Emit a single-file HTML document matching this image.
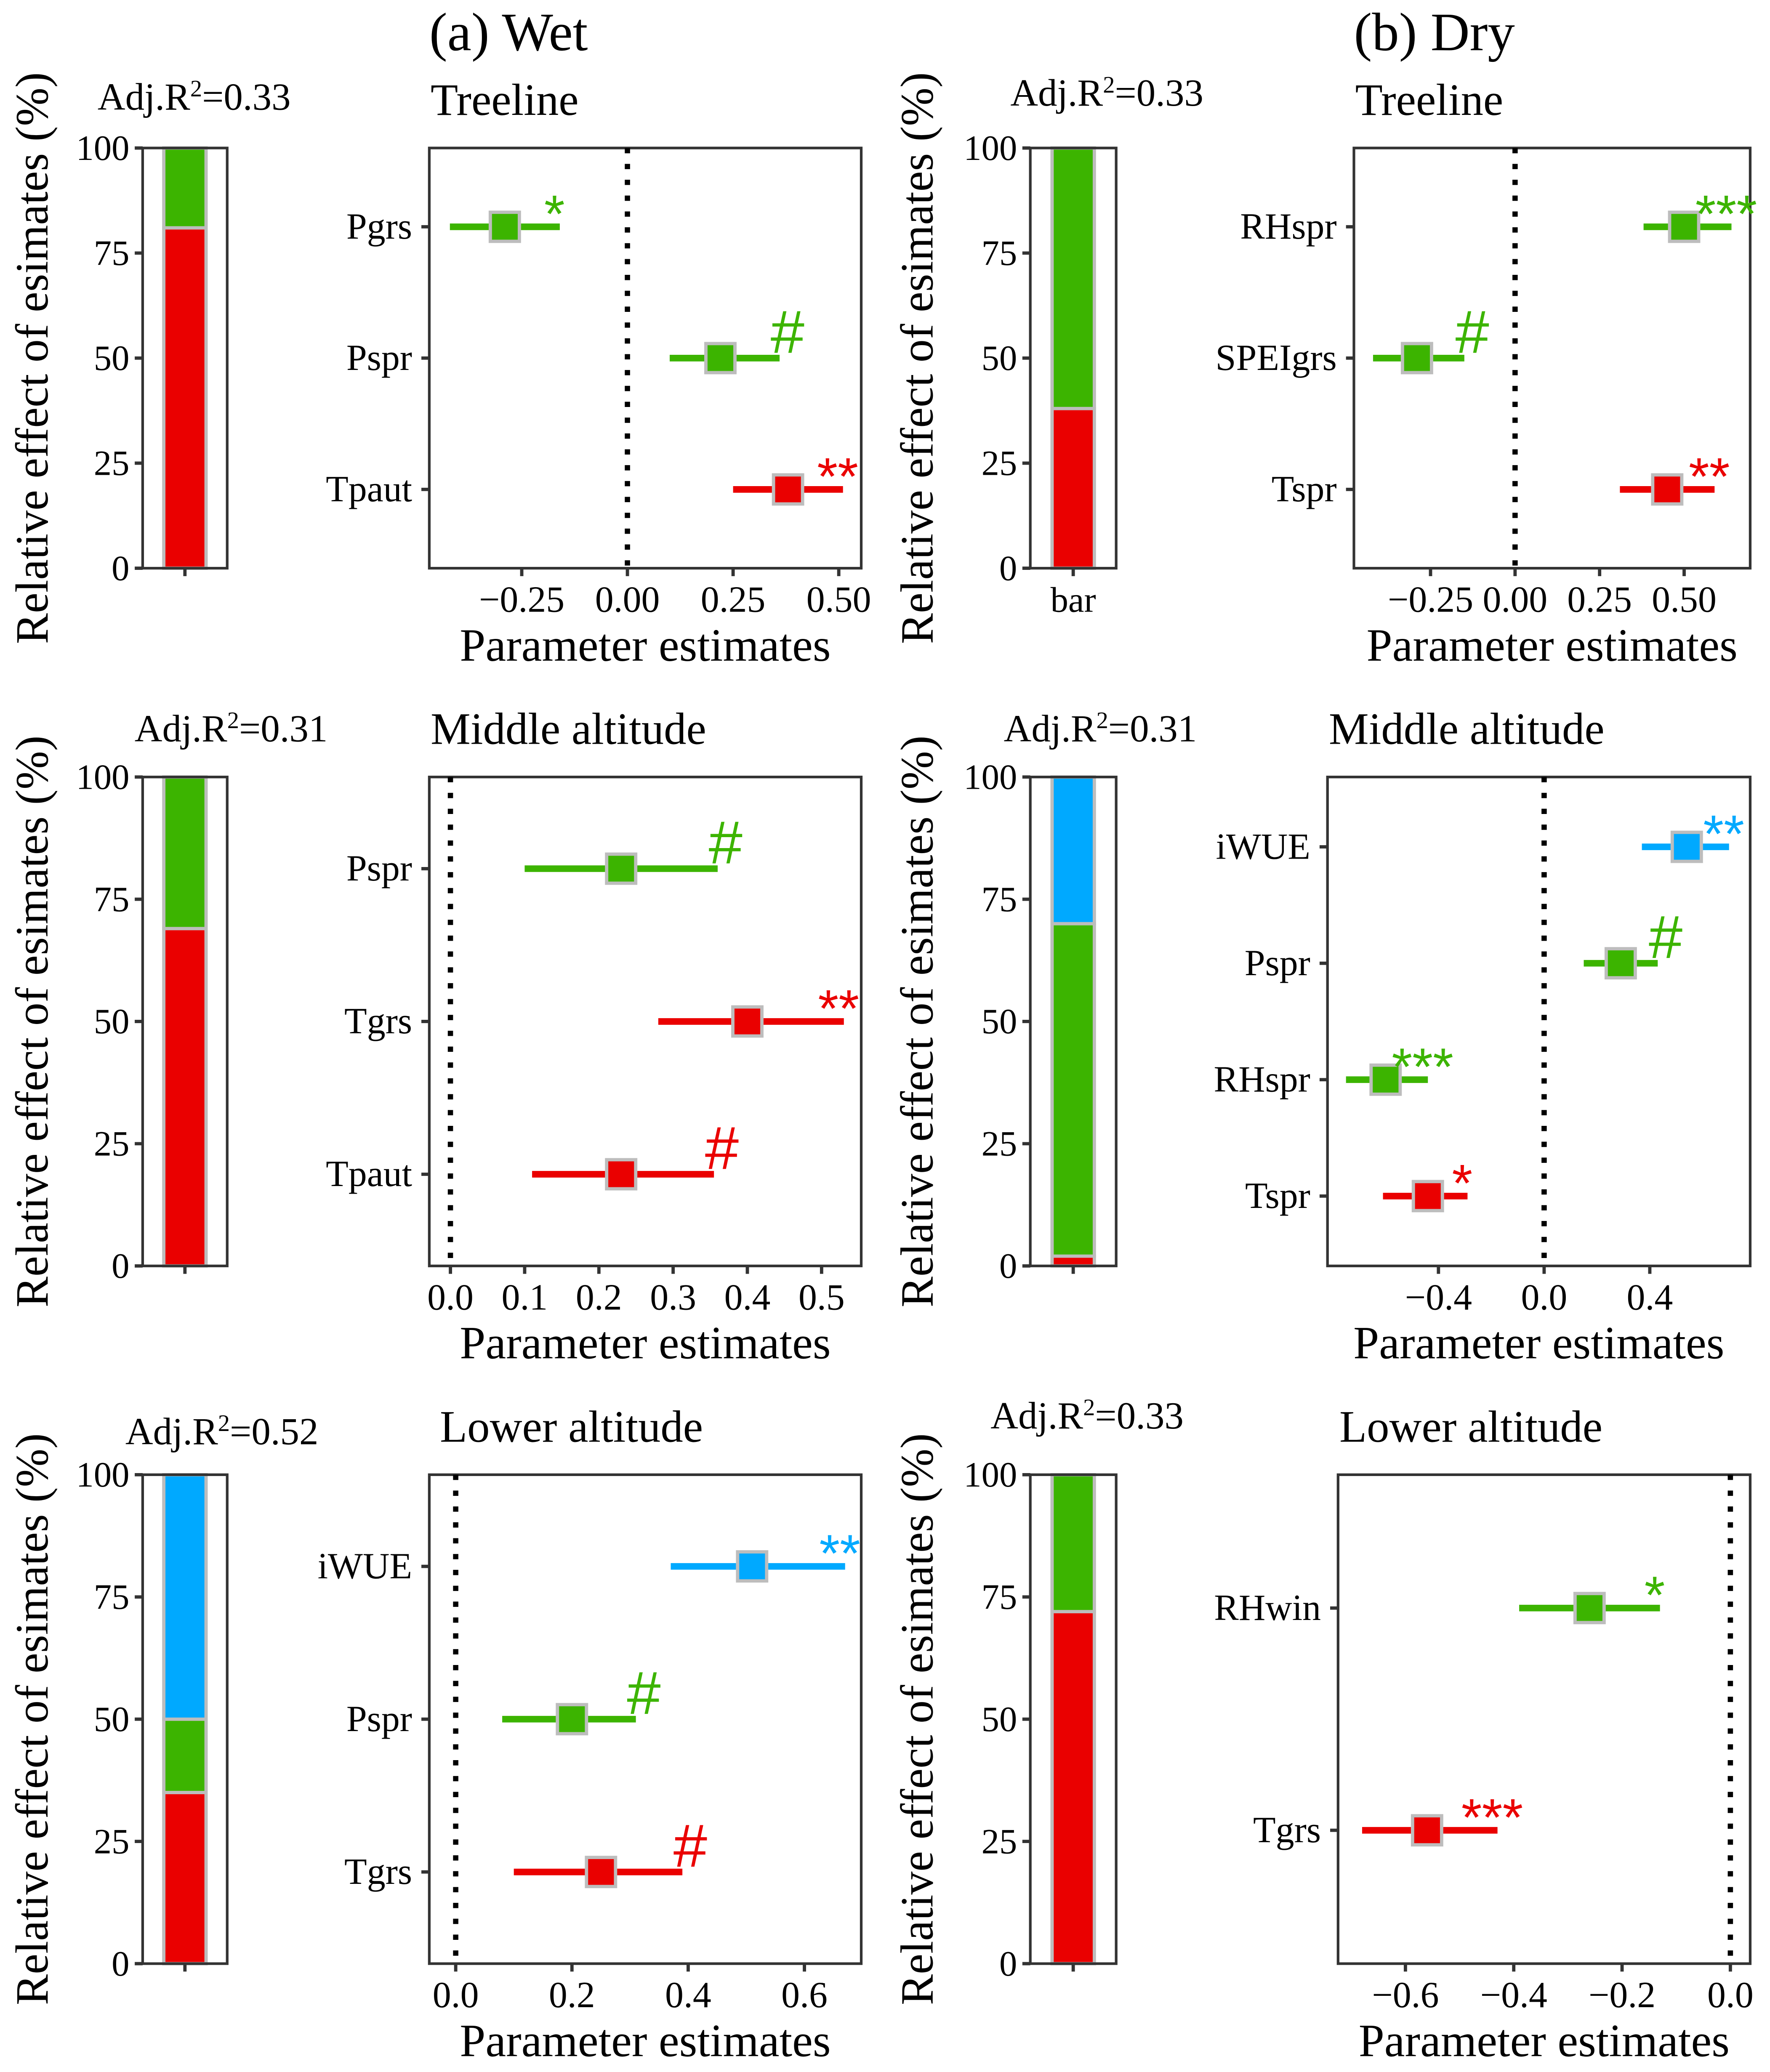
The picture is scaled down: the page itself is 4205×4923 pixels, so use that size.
<!DOCTYPE html>
<html><head><meta charset="utf-8"><style>
html,body{margin:0;padding:0;background:#fff}
svg{display:block}
text{font-family:"Liberation Serif",serif}
text.sig{font-family:"Liberation Sans",sans-serif}
</style></head><body>
<svg id="chart" width="4205" height="4923" viewBox="0 0 1340 1568" preserveAspectRatio="none" xmlns="http://www.w3.org/2000/svg">
<text x="325" y="38" font-size="41" fill="#000">(a) Wet</text>
<text x="1025" y="38" font-size="41" fill="#000">(b) Dry</text>
</svg>
<script>
// ---- data ----
const wetTreeVars=["Pgrs","Pspr","Tpaut"];
const wetTreeEst=[-0.29,0.22,0.38];
const wetTreeLo=[-0.42,0.10,0.25];
const wetTreeHi=[-0.16,0.36,0.51];
const wetTreeSig=["*","#","**"];
const wetTreeCol=["g","g","r"];
const wetTreeShare=[81,19,0]; // red, green, blue
const wetTreeR2="0.33";

const dryTreeVars=["RHspr","SPEIgrs","Tspr"];
const dryTreeEst=[0.50,-0.29,0.45];
const dryTreeLo=[0.38,-0.42,0.31];
const dryTreeHi=[0.64,-0.15,0.59];
const dryTreeSig=["***","#","**"];
const dryTreeCol=["g","g","r"];
const dryTreeShare=[38,62,0];
const dryTreeR2="0.33";

const wetMidVars=["Pspr","Tgrs","Tpaut"];
const wetMidEst=[0.23,0.40,0.23];
const wetMidLo=[0.10,0.28,0.11];
const wetMidHi=[0.36,0.53,0.355];
const wetMidSig=["#","**","#"];
const wetMidCol=["g","r","r"];
const wetMidShare=[69,31,0];
const wetMidR2="0.31";

const dryMidVars=["iWUE","Pspr","RHspr","Tspr"];
const dryMidEst=[0.54,0.29,-0.60,-0.44];
const dryMidLo=[0.37,0.15,-0.75,-0.61];
const dryMidHi=[0.70,0.43,-0.44,-0.29];
const dryMidSig=["**","#","***","*"];
const dryMidCol=["b","g","g","r"];
const dryMidShare=[2,68,30];
const dryMidR2="0.31";

const wetLowVars=["iWUE","Pspr","Tgrs"];
const wetLowEst=[0.51,0.20,0.25];
const wetLowLo=[0.37,0.08,0.10];
const wetLowHi=[0.67,0.31,0.39];
const wetLowSig=["**","#","#"];
const wetLowCol=["b","g","r"];
const wetLowShare=[35,15,50];
const wetLowR2="0.52";

const dryLowVars=["RHwin","Tgrs"];
const dryLowEst=[-0.26,-0.56];
const dryLowLo=[-0.39,-0.68];
const dryLowHi=[-0.13,-0.43];
const dryLowSig=["*","***"];
const dryLowCol=["g","r"];
const dryLowShare=[72,28,0];
const dryLowR2="0.33";

const ticksTree=[-0.25,0,0.25,0.5];
const ticksTreeLab=["\u22120.25","0.00","0.25","0.50"];
const ticksWetMid=[0,0.1,0.2,0.3,0.4,0.5];
const ticksWetMidLab=["0.0","0.1","0.2","0.3","0.4","0.5"];
const ticksDryMid=[-0.4,0,0.4];
const ticksDryMidLab=["\u22120.4","0.0","0.4"];
const ticksWetLow=[0,0.2,0.4,0.6];
const ticksWetLowLab=["0.0","0.2","0.4","0.6"];
const ticksDryLow=[-0.6,-0.4,-0.2,0];
const ticksDryLowLab=["\u22120.6","\u22120.4","\u22120.2","0.0"];
const barTicks=[0,25,50,75,100];

const COL={g:"#3cb400",r:"#ea0000",b:"#00a9ff"};
const svg=document.getElementById('chart');
const NS="http://www.w3.org/2000/svg";
function mk(tag,attrs,parent){const e=document.createElementNS(NS,tag);for(const k in attrs)e.setAttribute(k,attrs[k]);(parent||svg).appendChild(e);return e;}
function txt(x,y,s,size,anchor,parent){const t=mk('text',{x:x,y:y,'font-size':size,'text-anchor':anchor||'start',fill:'#000'},parent);t.textContent=s;return t;}

function barPanel(id,x0,y0,x1,y1,share,r2,r2x,r2y,ylabx,barLabel){
  const g=mk('g',{});
  
  
  const ys=v=>y1-(v/100)*(y1-y0);
  const cx=(x0+x1)/2, bw=32;
  let cum=0;
  const keys=["r","g","b"];
  for(let i=0;i<3;i++){
    if(share[i]<=0)continue;
    const r=mk('rect',{x:cx-bw/2,y:ys(cum+share[i]),width:bw,height:ys(cum)-ys(cum+share[i]),fill:COL[keys[i]],stroke:"#bdbdbd","stroke-width":2.5},g);
    
    
    cum+=share[i];
  }
  mk('rect',{x:x0,y:y0,width:x1-x0,height:y1-y0,fill:"none",stroke:"#333","stroke-width":2},g);
  barTicks.forEach(v=>{
    mk('line',{x1:x0-6,x2:x0,y1:ys(v),y2:ys(v),stroke:"#333","stroke-width":2.5},g);
    const t=txt(x0-10,ys(v)+9,String(v),27,'end',g);
    
    
  });
  mk('line',{x1:cx,x2:cx,y1:y1,y2:y1+6,stroke:"#333","stroke-width":2.5},g);
  if(barLabel){txt(cx,y1+33,barLabel,27,'middle',g);}
  const yl=txt(0,0,"Relative effect of esimates (%)",35,'middle',g);
  yl.setAttribute('transform','translate('+(ylabx+6)+','+((y0+y1)/2)+') rotate(-90)');
  
  
  const rt=mk('text',{x:r2x,y:r2y,'font-size':29,'text-anchor':'middle',fill:'#000'},g);
  rt.innerHTML='Adj.R<tspan dy="-10" font-size="18">2</tspan><tspan dy="10">='+r2+'</tspan>';
  
  
}

function forest(id,title,tx,ty,x0,y0,x1,y1,v0,p0,v1,p1,vars,est,lo,hi,sig,col,ticks,tickLab){
  const g=mk('g',{});
  
  
  const xs=v=>p0+(v-v0)*(p1-p0)/(v1-v0);
  const n=vars.length, unit=(y1-y0)/(n-1+1.2);
  const ys=i=>y0+(0.6+i)*unit;
  const tt=txt(tx,ty,title,34,'start',g);
  
  
  mk('rect',{x:x0,y:y0,width:x1-x0,height:y1-y0,fill:"none",stroke:"#333","stroke-width":2},g);
  const zl=mk('line',{x1:xs(0),x2:xs(0),y1:y0,y2:y1,stroke:"#000","stroke-width":4,"stroke-dasharray":"4,8"},g);
  
  
  ticks.forEach((v,i)=>{
    mk('line',{x1:xs(v),x2:xs(v),y1:y1,y2:y1+6,stroke:"#333","stroke-width":2.5},g);
    const t=txt(xs(v),y1+33,tickLab[i],28,'middle',g);
    
    
  });
  const xt=txt((x0+x1)/2,y1+70,"Parameter estimates",35,'middle',g);
  
  
  vars.forEach((name,i)=>{
    const y=ys(i), c=COL[col[i]];
    mk('line',{x1:x0-6,x2:x0,y1:y,y2:y,stroke:"#333","stroke-width":2.5},g);
    const l=txt(x0-13,y+9,name,28,'end',g);
    
    
    const ci=mk('line',{x1:xs(lo[i]),x2:xs(hi[i]),y1:y,y2:y,stroke:c,"stroke-width":5},g);
    
    
    const pt=mk('rect',{x:xs(est[i])-11,y:y-11,width:22,height:22,fill:c,stroke:"#bdbdbd","stroke-width":2.5},g);
    
    
    const s=sig[i], isHash=(s==="#");
    const st=txt(isHash?xs(hi[i])+6:xs(hi[i])-4,isHash?y-4:y+4,s,isHash?46:40,'middle',g);
    st.setAttribute('class','sig');
    st.setAttribute('fill',c);
    
    
  });
}

barPanel('wet-treeline',108,112,172,430,wetTreeShare,wetTreeR2,147,83,30,null);
forest('wet-treeline',"Treeline",326,87,325,112,652,430,0,475,0.5,635,wetTreeVars,wetTreeEst,wetTreeLo,wetTreeHi,wetTreeSig,wetTreeCol,ticksTree,ticksTreeLab);
barPanel('dry-treeline',780,112,845,430,dryTreeShare,dryTreeR2,838,80,700,"bar");
forest('dry-treeline',"Treeline",1026,87,1025,112,1325,430,0,1147,0.5,1275,dryTreeVars,dryTreeEst,dryTreeLo,dryTreeHi,dryTreeSig,dryTreeCol,ticksTree,ticksTreeLab);

barPanel('wet-middle',108,588,172,958,wetMidShare,wetMidR2,175,561,30,null);
forest('wet-middle',"Middle altitude",326,563,325,588,652,958,0,341,0.5,622,wetMidVars,wetMidEst,wetMidLo,wetMidHi,wetMidSig,wetMidCol,ticksWetMid,ticksWetMidLab);
barPanel('dry-middle',780,588,845,958,dryMidShare,dryMidR2,833,561,700,null);
forest('dry-middle',"Middle altitude",1006,563,1005,588,1325,958,0,1169,0.4,1249,dryMidVars,dryMidEst,dryMidLo,dryMidHi,dryMidSig,dryMidCol,ticksDryMid,ticksDryMidLab);

barPanel('wet-lower',108,1116,172,1486,wetLowShare,wetLowR2,168,1093,30,null);
forest('wet-lower',"Lower altitude",333,1091,325,1116,652,1486,0,345,0.6,609,wetLowVars,wetLowEst,wetLowLo,wetLowHi,wetLowSig,wetLowCol,ticksWetLow,ticksWetLowLab);
barPanel('dry-lower',780,1116,845,1486,dryLowShare,dryLowR2,823,1081,700,null);
forest('dry-lower',"Lower altitude",1014,1091,1013,1116,1325,1486,0,1310,-0.6,1064,dryLowVars,dryLowEst,dryLowLo,dryLowHi,dryLowSig,dryLowCol,ticksDryLow,ticksDryLowLab);
</script>
</body></html>
